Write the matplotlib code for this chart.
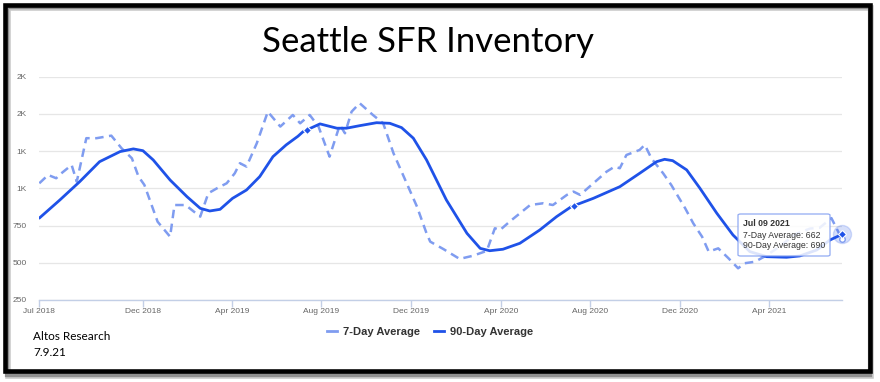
import matplotlib
matplotlib.use("Agg")
import matplotlib.pyplot as plt
import matplotlib.dates as mdates
from matplotlib.patches import Rectangle, FancyBboxPatch
from matplotlib.lines import Line2D
from matplotlib.ticker import FixedLocator, FuncFormatter
import numpy as np
import pandas as pd

# 90-day average (solid)
dates_90 = ["2018-07-13", "2018-08-10", "2018-09-06", "2018-10-03", "2018-10-31", "2018-11-18",
            "2018-12-01", "2018-12-15", "2019-01-07", "2019-01-30", "2019-02-17", "2019-03-02",
            "2019-03-16", "2019-04-02", "2019-04-21", "2019-05-09", "2019-05-27", "2019-06-14",
            "2019-06-30", "2019-07-07", "2019-07-30", "2019-08-22", "2019-09-04", "2019-09-22",
            "2019-10-15", "2019-11-02", "2019-11-18", "2019-12-04", "2019-12-22", "2020-01-18",
            "2020-02-15", "2020-03-04", "2020-03-17", "2020-04-04", "2020-04-27", "2020-05-24",
            "2020-06-16", "2020-07-06", "2020-08-05", "2020-09-10", "2020-10-07", "2020-10-30",
            "2020-11-10", "2020-11-21", "2020-12-10", "2020-12-28", "2021-01-20", "2021-02-11",
            "2021-03-06", "2021-03-29", "2021-04-25", "2021-05-13", "2021-06-05", "2021-06-23",
            "2021-07-09"]
avg_90 = [800, 922, 1045, 1179, 1247, 1265,
          1253, 1191, 1056, 944, 866, 848,
          859, 933, 989, 1079, 1213, 1292,
          1350, 1381, 1433, 1404, 1404, 1421,
          1441, 1437, 1408, 1337, 1191, 922,
          698, 597, 581, 591, 631, 720,
          810, 877, 933, 1011, 1101, 1179,
          1195, 1186, 1124, 1001, 833, 687,
          575, 541, 537, 546, 586, 653,
          690]

# 7-day average (dashed)
dates_7 = ["2018-07-13", "2018-07-25", "2018-08-05", "2018-08-12", "2018-08-26", "2018-09-02",
           "2018-09-15", "2018-09-29", "2018-10-19", "2018-11-02", "2018-11-16", "2018-11-25",
           "2018-12-03", "2018-12-21", "2019-01-07", "2019-01-13", "2019-01-28", "2019-02-17",
           "2019-02-28", "2019-03-12", "2019-03-25", "2019-04-05", "2019-04-12", "2019-04-21",
           "2019-05-05", "2019-05-20", "2019-06-06", "2019-06-23", "2019-07-03", "2019-07-16",
           "2019-07-28", "2019-08-12", "2019-08-26", "2019-09-02", "2019-09-11", "2019-09-22",
           "2019-10-10", "2019-10-24", "2019-11-07", "2019-11-25", "2019-12-09", "2019-12-22",
           "2019-12-27", "2020-01-14", "2020-02-05", "2020-02-23", "2020-03-13", "2020-03-24",
           "2020-03-31", "2020-04-13", "2020-05-11", "2020-05-29", "2020-06-11", "2020-06-30",
           "2020-07-09", "2020-07-18", "2020-08-23", "2020-09-03", "2020-09-10", "2020-09-19",
           "2020-10-07", "2020-10-14", "2020-10-23", "2020-11-08", "2020-11-19", "2020-12-08",
           "2020-12-19", "2020-12-31", "2021-01-09", "2021-01-22", "2021-02-05", "2021-02-18",
           "2021-02-27", "2021-03-13", "2021-03-27", "2021-04-16", "2021-05-06", "2021-05-27",
           "2021-06-09", "2021-06-25", "2021-07-09"]
avg_7 = [1034, 1090, 1068, 1101, 1157, 1045,
         1337, 1337, 1354, 1269, 1202, 1079,
         1023, 776, 675, 888, 888, 810,
         967, 1001, 1034, 1101, 1169, 1146,
         1303, 1515, 1415, 1493, 1437, 1493,
         1415, 1213, 1426, 1370, 1515, 1572,
         1493, 1437, 1236, 1034, 877, 698,
         642, 592, 526, 547, 580, 732,
         720, 776, 888, 900, 888, 956,
         978, 956, 1112, 1146, 1135, 1224,
         1258, 1292, 1202, 1101, 1023, 866,
         765, 675, 575, 597, 530, 463,
         497, 507, 545, 610, 690, 730,
         735, 800, 662]

marker_dates = ["2019-07-12", "2020-07-10"]

xtick_dates = ["2018-07-13", "2018-12-01", "2019-04-01", "2019-08-01", "2019-12-01",
               "2020-04-01", "2020-08-01", "2020-12-01", "2021-04-01"]
xtick_labels = ["Jul 2018", "Dec 2018", "Apr 2019", "Aug 2019", "Dec 2019",
                "Apr 2020", "Aug 2020", "Dec 2020", "Apr 2021"]
yticks = [250, 500, 750, 1000, 1250, 1500, 1750]

W, H = 880, 382
c90 = "#1f52e8"
c7 = "#7f9cf0"

d90 = pd.to_datetime(dates_90)
d7 = pd.to_datetime(dates_7)

fig = plt.figure(figsize=(W / 100, H / 100), dpi=100)
fig.patch.set_facecolor("white")


def fx(px):
    return px / W


def fy(py):
    return 1 - py / H


ax = fig.add_axes([fx(39.3), fy(300), fx(841.7) - fx(39.3), fy(76.7) - fy(300)])
ax.plot(d7, avg_7, color=c7, lw=1.8, ls=(0, (3.4, 2.2)), zorder=3)
ax.plot(d90, avg_90, color=c90, lw=2.0, zorder=4, solid_capstyle="round",
        solid_joinstyle="round")

# marcadores anuais na linha de 90 dias
mnum = mdates.date2num(pd.to_datetime(marker_dates))
mval = np.interp(mnum, mdates.date2num(d90), avg_90)
ax.plot(mnum, mval, ls="none", marker="D", ms=4.5, color=c90, mec="white", mew=0.8, zorder=5)

# ponto em destaque (hover) no final
ax.plot(d90[-1], avg_90[-1], marker="o", ms=13, color=c90, alpha=0.18, ls="none", zorder=5,
        clip_on=False)
ax.plot(d7[-1], avg_7[-1], marker="o", ms=4, color="white", mec=c7, mew=1, ls="none", zorder=6,
        clip_on=False)
ax.plot(d90[-1], avg_90[-1], marker="D", ms=4.5, color=c90, mec="white", mew=0.8, ls="none",
        zorder=7, clip_on=False)

ax.set_xlim(d90[0], d90[-1])
ax.set_ylim(250, 1750)
ax.yaxis.set_major_locator(FixedLocator(yticks))
ax.yaxis.set_major_formatter(FuncFormatter(
    lambda v, p: str(int(v)) if v < 1000 else f"{round(v / 1000)}K"))
ax.set_xticks(pd.to_datetime(xtick_dates))
ax.set_xticklabels(xtick_labels)
ax.grid(axis="y", color="#e6e6e6", lw=0.9)
ax.set_axisbelow(True)
for s in ["top", "right", "left"]:
    ax.spines[s].set_visible(False)
ax.spines["bottom"].set_color("#c3cfe6")
ax.spines["bottom"].set_linewidth(1)
ax.tick_params(axis="x", colors="#c3cfe6", length=5, width=1, pad=1, labelcolor="#666666",
               labelsize=6)
ax.tick_params(axis="y", length=0, pad=9, labelcolor="#666666", labelsize=6)
for lab in ax.get_xticklabels() + ax.get_yticklabels():
    lab.set_fontfamily("Liberation Sans")

# legenda
handles = [Line2D([], [], color=c7, lw=2), Line2D([], [], color=c90, lw=2)]
leg = fig.legend(handles, ["7-Day Average", "90-Day Average"], loc="center",
                 bbox_to_anchor=(fx(430), fy(332)), ncol=2, frameon=False,
                 handlelength=0.9, handletextpad=0.5, columnspacing=1.3,
                 prop={"family": "Liberation Sans", "weight": "bold", "size": 8})
for t in leg.get_texts():
    t.set_color("#333333")

# tooltip
tip = FancyBboxPatch((fx(738), fy(256)), fx(830) - fx(738), fy(214) - fy(256),
                     boxstyle="round,pad=0,rounding_size=0.003", transform=fig.transFigure,
                     facecolor="white", alpha=0.85, edgecolor=c7, lw=0.9, zorder=10)
fig.add_artist(tip)
fig.text(fx(743), fy(224), "Jul 09 2021", fontsize=6.3, fontweight="bold", color="#333333",
         family="Liberation Sans", va="center", zorder=11)
fig.text(fx(743), fy(235), "7-Day Average: 662", fontsize=6.3, color="#333333",
         family="Liberation Sans", va="center", zorder=11)
fig.text(fx(743), fy(246), "90-Day Average: 690", fontsize=6.3, color="#333333",
         family="Liberation Sans", va="center", zorder=11)

# título e notas
fig.text(fx(428), fy(42), "Seattle SFR Inventory", fontsize=25, family="Lato",
         ha="center", va="center", color="black")
fig.text(fx(33), fy(336), "Altos Research", fontsize=8.5, family="Lato", va="center")
fig.text(fx(33), fy(352), "7.9.21", fontsize=8.5, family="Lato", va="center")

# moldura com sombra
fig.add_artist(Rectangle((fx(8), fy(376)), fx(871) - fx(8), fy(8) - fy(376),
                         transform=fig.transFigure, fill=False, edgecolor="#c8c8c8", lw=4,
                         zorder=0))
fig.add_artist(Rectangle((fx(7), fy(375)), fx(870) - fx(7), fy(7) - fy(375),
                         transform=fig.transFigure, fill=False, edgecolor="#909090", lw=3,
                         zorder=0))
fig.add_artist(Rectangle((fx(5.2), fy(370.7)), fx(869.5) - fx(5.2), fy(5.2) - fy(370.7),
                         transform=fig.transFigure, fill=False, edgecolor="black", lw=3.3,
                         zorder=12))

fig.savefig("out.png", dpi=100)
